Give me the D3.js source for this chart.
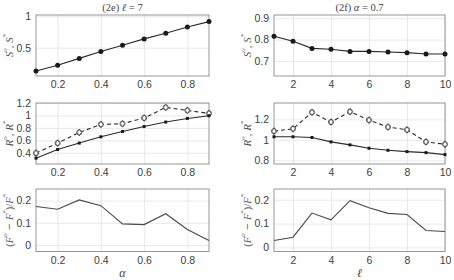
<!DOCTYPE html>
<html><head><meta charset="utf-8">
<script src="https://cdn.jsdelivr.net/npm/d3@7"></script>
<style>body{margin:0;background:#fff}svg{display:block}</style>
</head><body>
<svg id="c" width="454" height="280"></svg>
<script>
const alphaVals = [0.1,0.2,0.3,0.4,0.5,0.6,0.7,0.8,0.9];
const ellVals = [1,2,3,4,5,6,7,8,9,10];
const S_alpha = [0.13,0.22,0.33,0.44,0.54,0.64,0.73,0.83,0.915];
const S_ell = [0.816,0.792,0.759,0.755,0.745,0.745,0.742,0.739,0.733,0.733];
const Ro_alpha = [0.395,0.556,0.727,0.856,0.867,0.959,1.129,1.081,1.033];
const Rs_alpha = [0.314,0.453,0.556,0.657,0.743,0.823,0.894,0.952,0.995];
const Ro_ell = [1.085,1.108,1.269,1.174,1.275,1.193,1.125,1.098,0.98,0.957];
const Rs_ell = [1.03,1.03,1.023,0.98,0.951,0.918,0.898,0.885,0.875,0.856];
const F_alpha = [0.173,0.161,0.203,0.177,0.095,0.092,0.141,0.070,0.020];
const F_ell = [0.029,0.043,0.144,0.116,0.196,0.166,0.143,0.138,0.071,0.067];
const xTicksAlpha = [0.2,0.4,0.6,0.8];
const xTicksEll = [2,4,6,8,10];
const yTicksSa = [0.5,1];
const yTicksSe = [0.7,0.8,0.9];
const yTicksRa = [0.4,0.6,0.8,1,1.2];
const yTicksRe = [0.8,1,1.2];
const yTicksF = [0,0.1,0.2];

const svg = d3.select("#c");
const cols = [
  {x0:36, x1:209, xd:[0.1,0.9], xv:alphaVals, xt:xTicksAlpha, title:"(2e) ", tv:"ℓ", tr:" = 7", xl:"α", lx:9},
  {x0:274, x1:445, xd:[1,10], xv:ellVals, xt:xTicksEll, title:"(2f) ", tv:"α", tr:" = 0.7", xl:"ℓ", lx:247}
];
const rows = [{y0:15,y1:76},{y0:103,y1:164},{y0:189,y1:251.5}];
const panels = [
  {c:0,r:0,yd:[0.05,1.02],yt:yTicksSa,ser:[{v:S_alpha,dash:null,m:"dot"}],yl:"S"},
  {c:1,r:0,yd:[0.63,0.915],yt:yTicksSe,ser:[{v:S_ell,dash:null,m:"dot"}],yl:"S"},
  {c:0,r:1,yd:[0.22,1.2],yt:yTicksRa,ser:[{v:Ro_alpha,dash:"4,3",m:"open"},{v:Rs_alpha,dash:null,m:"small"}],yl:"R"},
  {c:1,r:1,yd:[0.764,1.36],yt:yTicksRe,ser:[{v:Ro_ell,dash:"4,3",m:"open"},{v:Rs_ell,dash:null,m:"small"}],yl:"R"},
  {c:0,r:2,yd:[-0.029,0.252],yt:yTicksF,ser:[{v:F_alpha,dash:null,m:null}],yl:"F"},
  {c:1,r:2,yd:[-0.017,0.245],yt:yTicksF,ser:[{v:F_ell,dash:null,m:null}],yl:"F"}
];
const fmt = d => String(+d.toFixed(2));
panels.forEach(p=>{
  const col = cols[p.c], row = rows[p.r];
  const x = d3.scaleLinear().domain(col.xd).range([col.x0,col.x1]);
  const y = d3.scaleLinear().domain(p.yd).range([row.y1,row.y0]);
  const g = svg.append("g");
  g.append("g").attr("transform",`translate(0,${row.y1})`)
    .call(d3.axisBottom(x).tickValues(col.xt).tickSize(-(row.y1-row.y0)).tickFormat(""))
    .call(a=>{a.select(".domain").remove();a.selectAll("line").attr("stroke","#e3e3e3").attr("stroke-width",0.8);});
  g.append("g").attr("transform",`translate(${col.x0},0)`)
    .call(d3.axisLeft(y).tickValues(p.yt).tickSize(-(col.x1-col.x0)).tickFormat(""))
    .call(a=>{a.select(".domain").remove();a.selectAll("line").attr("stroke","#e3e3e3").attr("stroke-width",0.8);});
  g.append("g").attr("transform",`translate(0,${row.y1})`)
    .call(d3.axisBottom(x).tickValues(col.xt).tickSize(0).tickPadding(5).tickFormat(fmt))
    .call(a=>{a.select(".domain").remove();a.selectAll("text").attr("font-family","Liberation Sans, Arial, sans-serif").attr("font-size",10.5).attr("fill","#404040");});
  g.append("g").attr("transform",`translate(${col.x0},0)`)
    .call(d3.axisLeft(y).tickValues(p.yt).tickSize(0).tickPadding(5).tickFormat(fmt))
    .call(a=>{a.select(".domain").remove();a.selectAll("text").attr("font-family","Liberation Sans, Arial, sans-serif").attr("font-size",10.5).attr("fill","#404040");});
  g.append("rect").attr("x",col.x0).attr("y",row.y0).attr("width",col.x1-col.x0).attr("height",row.y1-row.y0)
    .attr("fill","none").attr("stroke","#8c8c8c").attr("stroke-width",0.9);
  p.ser.forEach(s=>{
    const pts = col.xv.map((xv,i)=>[xv,s.v[i]]);
    const line = d3.line().x(d=>x(d[0])).y(d=>y(d[1]));
    g.append("path").datum(pts).attr("d",line).attr("fill","none")
      .attr("stroke",s.m?"#2a2a2a":"#4a4a4a").attr("stroke-width",1.1)
      .attr("stroke-dasharray",s.dash);
    if(s.m==="dot"){
      g.selectAll(null).data(pts).join("circle").attr("cx",d=>x(d[0])).attr("cy",d=>y(d[1])).attr("r",2.5).attr("fill","#1a1a1a");
    } else if(s.m==="small"){
      g.selectAll(null).data(pts).join("path").attr("transform",d=>`translate(${x(d[0])},${y(d[1])})`)
        .attr("d",d3.symbol(d3.symbolSquare,9)).attr("fill","#1a1a1a");
    } else if(s.m==="open"){
      g.selectAll(null).data(pts).join("circle").attr("cx",d=>x(d[0])).attr("cy",d=>y(d[1])).attr("r",2.6)
        .attr("fill","#fff").attr("stroke","#444").attr("stroke-width",0.8);
      g.selectAll(null).data(pts).join("path").attr("transform",d=>`translate(${x(d[0])},${y(d[1])})`)
        .attr("d",d3.symbol(d3.symbolDiamond,14)).attr("fill","none").attr("stroke","#444").attr("stroke-width",0.7);
    }
  });
  const cy = (row.y0+row.y1)/2;
  const t = svg.append("text").attr("transform",`translate(${col.lx},${cy}) rotate(-90)`)
    .attr("text-anchor","middle").attr("dominant-baseline","central")
    .attr("font-family","Liberation Serif, Times New Roman, serif").attr("font-size",p.yl==="F"?10.5:11).attr("fill","#555");
  const sup = (txt)=>t.append("tspan").attr("baseline-shift","super").attr("font-size",7).text(txt);
  const it = (txt)=>t.append("tspan").attr("font-style","italic").text(txt);
  const nm = (txt)=>t.append("tspan").text(txt);
  if(p.yl==="F"){
    nm("("); it("F"); sup("o");
    t.append("tspan").attr("font-family","DejaVu Sans, sans-serif").attr("font-size",9).text(" − ");
    it("F"); sup("*"); nm(")/"); it("F"); sup("*");
  } else {
    it(p.yl); sup("o"); nm(", "); it(p.yl); sup("*");
  }
});
cols.forEach(col=>{
  const cx = (col.x0+col.x1)/2;
  const t = svg.append("text").attr("x",cx).attr("y",11).attr("text-anchor","middle")
    .attr("font-family","Liberation Serif, Times New Roman, serif").attr("font-size",10.5).attr("fill","#444");
  t.append("tspan").text(col.title);
  t.append("tspan").attr("font-style","italic").text(col.tv);
  t.append("tspan").text(col.tr);
  svg.append("text").attr("x",cx).attr("y",277).attr("text-anchor","middle")
    .attr("font-family","Liberation Serif, Times New Roman, serif").attr("font-style","italic")
    .attr("font-size",12).attr("fill","#444").text(col.xl);
});
</script>
</body></html>
